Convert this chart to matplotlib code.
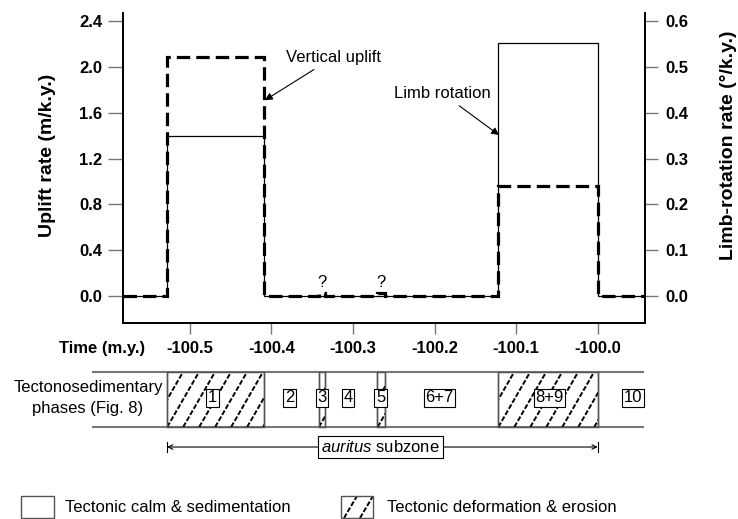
import numpy as np
import matplotlib

matplotlib.use("Agg")
import matplotlib.pyplot as plt
from matplotlib.patches import Rectangle

plt.rcParams["font.family"] = ["Liberation Sans", "DejaVu Sans"]
plt.rcParams["mathtext.fontset"] = "custom"
plt.rcParams["mathtext.it"] = "Liberation Sans:italic"
plt.rcParams["mathtext.rm"] = "Liberation Sans"

# vertical uplift (m/k.y.), step function
uplift_edges = [-100.582, -100.528, -100.409, -100.342, -100.334, -100.270,
                -100.261, -100.122, -100.0, -99.942]
uplift_values = [0.0, 2.09, 0.0, 0.03, 0.0, 0.03, 0.0, 0.963, 0.0]

# limb rotation (deg/k.y.), step function
limb_edges = [-100.582, -100.528, -100.409, -100.122, -100.0, -99.942]
limb_values = [0.0, 0.35, 0.0, 0.553, 0.0]

# tectonosedimentary phases
phase_bounds = [-100.528, -100.409, -100.342, -100.334, -100.270, -100.261,
                -100.122, -100.0]
hatched_phases = [(-100.528, -100.409), (-100.342, -100.334),
                  (-100.270, -100.261), (-100.122, -100.0)]
phase_labels = ["1", "2", "3", "4", "5", "6+7", "8+9", "10"]
phase_label_x = [-100.472, -100.3775, -100.338, -100.306, -100.266,
                 -100.194, -100.059, -99.957]
question_x = [-100.338, -100.266]
subzone_span = (-100.528, -100.0)

x_ticks = [-100.5, -100.4, -100.3, -100.2, -100.1, -100.0]
x_ticklabels = ["-100.5", "-100.4", "-100.3", "-100.2", "-100.1", "-100.0"]
left_ticks = [0.0, 0.4, 0.8, 1.2, 1.6, 2.0, 2.4]
right_ticks = [0.0, 0.1, 0.2, 0.3, 0.4, 0.5, 0.6]

XLIM = (-100.582, -99.942)
YLIM = (-0.236, 2.472)
W, H = 738, 519


def hatched(ax, x0, x1, y_bot, y_top, run, step, edge="#555555", lw_box=1.0):
    rect = Rectangle((x0, y_bot), x1 - x0, y_top - y_bot, fill=False,
                     edgecolor=edge, lw=lw_box, clip_on=False, zorder=3)
    ax.add_patch(rect)
    for s in np.arange(x0 - run, x1 + step, step):
        ln, = ax.plot([s, s + run], [y_bot, y_top], color="black", lw=1.4,
                      ls=(0, (2.6, 1.0)), zorder=2)
        ln.set_clip_path(rect)


fig = plt.figure(figsize=(W / 100, H / 100), dpi=100)

# main chart
ax = fig.add_axes([123 / W, 1 - 323 / H, 522 / W, 310 / H])
ax_r = ax.twinx()
ax.set_zorder(2)
ax_r.set_zorder(1)
ax.patch.set_visible(False)

ax_r.stairs(limb_values, limb_edges, baseline=None, color="black", lw=0.9)
ax.stairs(uplift_values, uplift_edges, baseline=None, color="black", lw=2.3,
          ls=(0, (4.2, 1.9)))

ax.set_xlim(*XLIM)
ax.set_ylim(*YLIM)
ax_r.set_ylim(YLIM[0] / 4, YLIM[1] / 4)

ax.set_xticks(x_ticks, x_ticklabels, fontsize=12, fontweight="bold")
ax.set_yticks(left_ticks, [f"{v:.1f}" for v in left_ticks], fontsize=12,
              fontweight="bold")
ax_r.set_yticks(right_ticks, [f"{v:.1f}" for v in right_ticks], fontsize=12,
                fontweight="bold")
ax.tick_params(axis="x", length=8, pad=5, color="#777777", width=1)
ax.tick_params(axis="y", length=11, pad=4, color="#777777", width=1)
ax_r.tick_params(axis="y", length=9, pad=6, color="#777777", width=1)

for a in (ax, ax_r):
    a.spines["top"].set_visible(False)
    for side in ("left", "right", "bottom"):
        a.spines[side].set_linewidth(1.3)

ax.set_ylabel("Uplift rate (m/k.y.)", fontsize=14, fontweight="bold")
ax.yaxis.set_label_coords(-0.128, 0.54)
ax_r.set_ylabel("Limb-rotation rate (°/k.y.)", fontsize=14, fontweight="bold")
ax_r.yaxis.set_label_coords(1.144, 0.574)

arrow = dict(arrowstyle="-|>", color="black", lw=0.8, mutation_scale=11,
             shrinkA=3, shrinkB=0)
ax.annotate("Vertical uplift", xy=(-100.408, 1.71), xytext=(-100.3235, 2.087),
            ha="center", va="center", fontsize=12, arrowprops=arrow)
ax.annotate("Limb rotation", xy=(-100.121, 1.406), xytext=(-100.191, 1.773),
            ha="center", va="center", fontsize=12, arrowprops=arrow)
for qx in question_x:
    ax.text(qx, 0.114, "?", ha="center", va="center", fontsize=12)

# phases band
ax2 = fig.add_axes([123 / W, 1 - 427 / H, 522 / W, 55 / H])
ax2.set_xlim(*XLIM)
ax2.set_ylim(0, 1)
ax2.axis("off")

for yb in (0, 1):
    ax2.plot([-100.619, -99.945], [yb, yb], color="#777777", lw=1.5,
             clip_on=False)
for xb in phase_bounds:
    ax2.plot([xb, xb], [0, 1], color="#555555", lw=1.0, clip_on=False)
for x0, x1 in hatched_phases:
    hatched(ax2, x0, x1, 0, 1, 0.039, 0.0196)

box = dict(boxstyle="square,pad=0.1", fc="white", ec="black", lw=0.8)
for lab, lx in zip(phase_labels, phase_label_x):
    ax2.text(lx, 0.53, lab, ha="center", va="center", fontsize=12, bbox=box,
             zorder=5, clip_on=False)

ax2.text(-100.625, 0.53, "Tectonosedimentary\nphases (Fig. 8)", ha="center",
         va="center", fontsize=12, linespacing=1.5, clip_on=False, zorder=6)

# auritus subzone arrow
ya = -0.364
ax2.annotate("", xy=(subzone_span[0], ya), xytext=(subzone_span[1], ya),
             arrowprops=dict(arrowstyle="<->", lw=0.8, color="black",
                             mutation_scale=8, shrinkA=0, shrinkB=0),
             annotation_clip=False)
for xe in subzone_span:
    ax2.plot([xe, xe], [ya - 0.09, ya + 0.09], color="black", lw=0.8,
             clip_on=False)
ax2.text(-100.266, ya, r"$\mathit{auritus}$ subzone", ha="center", va="center",
         fontsize=12, zorder=5, clip_on=False,
         bbox=dict(boxstyle="square,pad=0.2", fc="white", ec="black", lw=0.8))

# figure-space text and legend
ov = fig.add_axes([0, 0, 1, 1])
ov.set_xlim(0, W)
ov.set_ylim(H, 0)
ov.axis("off")
ov.text(145, 348, "Time (m.y.)", ha="right", va="center", fontsize=12,
        fontweight="bold")
ov.add_patch(Rectangle((21, 496), 33, 22, fill=False, edgecolor="#555555",
                       lw=1.0))
ov.text(65, 507, "Tectonic calm & sedimentation", ha="left", va="center",
        fontsize=12)
hatched(ov, 341, 373, 518, 496, 13, 16)
ov.text(387, 507, "Tectonic deformation & erosion", ha="left", va="center",
        fontsize=12)

fig.savefig("out.png", dpi=100)
